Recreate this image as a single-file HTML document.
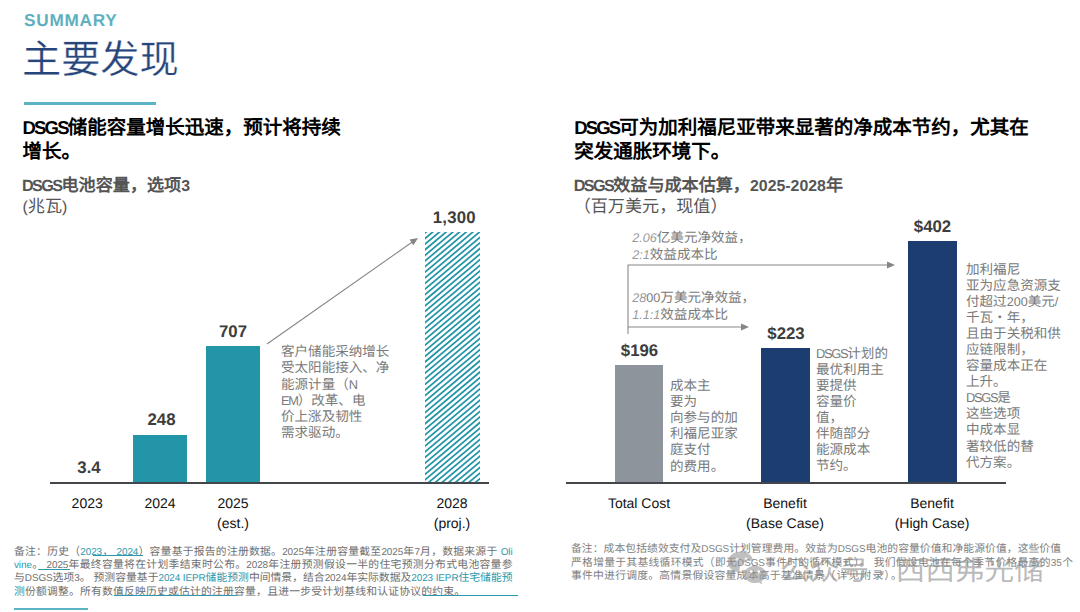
<!DOCTYPE html>
<html lang="zh-CN">
<head>
<meta charset="utf-8">
<title>主要发现</title>
<style>
html,body{margin:0;padding:0;background:#fff;}
body{width:1080px;height:612px;position:relative;overflow:hidden;font-family:"Liberation Sans",sans-serif;color:#000;text-rendering:geometricPrecision;}
.a{position:absolute;white-space:nowrap;}
.c{position:absolute;white-space:nowrap;transform:translateX(-50%);text-align:center;}
.l{font-size:.95em;letter-spacing:-.1em;}
.d{font-size:.93em;}
.summary{left:24px;top:9.5px;font-size:17.2px;font-weight:bold;color:#5fb0bf;letter-spacing:.75px;}
.title{left:22px;top:33.2px;font-size:39.2px;font-weight:300;color:#26457b;line-height:56px;-webkit-text-stroke:.3px #fff;}
.rule{position:absolute;left:24px;top:101.6px;width:132px;height:3px;background:#5cb3c3;}
.h{font-size:19.5px;font-weight:bold;line-height:24.2px;color:#000;}
.sub{font-size:17.1px;font-weight:bold;color:#555;}
.unit{font-size:17.1px;color:#555;}
.val{font-size:16.8px;line-height:18px;font-weight:bold;color:#3d3d3d;letter-spacing:0;}
.xl{font-size:14px;color:#111;line-height:20px;}
.note{font-size:13.55px;line-height:16.05px;color:#7a7a7a;white-space:nowrap;}
.bar{position:absolute;}
.teal{background:#2395a8;}
.navy{background:#1c3d70;}
.gray{background:#8e949c;}
.axis{position:absolute;height:1.9px;background:#43464b;}
.fn{position:absolute;font-size:10.8px;line-height:13.4px;color:#6e6e6e;}
.fn div{text-align:justify;text-align-last:justify;white-space:nowrap;}
.fn b{font-weight:normal;color:#2b98ad;}
.fn .l{font-size:.92em;letter-spacing:-.01em;}
.ul{position:absolute;height:.9px;background:#2b98ad;}
.it{font-size:13.55px;line-height:15.6px;color:#7a7a7a;white-space:nowrap;}
.it i{font-style:italic;font-size:12.6px;color:#999;}
.it span{font-size:12.6px;}
</style>
</head>
<body>
<div class="a summary">SUMMARY</div>
<div class="a title">主要发现</div>
<div class="rule"></div>

<!-- LEFT -->
<div class="a h" style="left:22.6px;top:115.9px;"><span class="l">DSGS</span>储能容量增长迅速，预计将持续<br>增长。</div>
<div class="a sub" style="left:22px;top:170.7px;"><span class="l">DSGS</span>电池容量，选项<span class="d">3</span></div>
<div class="a unit" style="left:22.5px;top:192.2px;"><span class="d">(</span>兆瓦<span class="d">)</span></div>

<div class="bar teal" style="left:133px;top:435px;width:54px;height:48px;"></div>
<div class="bar teal" style="left:206px;top:346px;width:54px;height:137px;"></div>
<svg class="bar" style="left:425px;top:231.6px;background:#fff;" width="55" height="251" viewBox="0 0 55 251"><path stroke="#2395a8" stroke-width="1.75" fill="none" d="M-1 1.74L56 -46.09M-1 7.35L56 -40.48M-1 12.97L56 -34.86M-1 18.58L56 -29.25M-1 24.19L56 -23.64M-1 29.81L56 -18.02M-1 35.42L56 -12.41M-1 41.03L56 -6.80M-1 46.65L56 -1.18M-1 52.26L56 4.43M-1 57.87L56 10.04M-1 63.48L56 15.66M-1 69.10L56 21.27M-1 74.71L56 26.88M-1 80.32L56 32.50M-1 85.94L56 38.11M-1 91.55L56 43.72M-1 97.16L56 49.34M-1 102.78L56 54.95M-1 108.39L56 60.56M-1 114.00L56 66.18M-1 119.62L56 71.79M-1 125.23L56 77.40M-1 130.84L56 83.02M-1 136.46L56 88.63M-1 142.07L56 94.24M-1 147.68L56 99.85M-1 153.30L56 105.47M-1 158.91L56 111.08M-1 164.52L56 116.69M-1 170.14L56 122.31M-1 175.75L56 127.92M-1 181.36L56 133.53M-1 186.98L56 139.15M-1 192.59L56 144.76M-1 198.20L56 150.37M-1 203.82L56 155.99M-1 209.43L56 161.60M-1 215.04L56 167.21M-1 220.66L56 172.83M-1 226.27L56 178.44M-1 231.88L56 184.05M-1 237.50L56 189.67M-1 243.11L56 195.28M-1 248.72L56 200.89M-1 254.34L56 206.51M-1 259.95L56 212.12M-1 265.56L56 217.73M-1 271.18L56 223.35M-1 276.79L56 228.96M-1 282.40L56 234.57M-1 288.01L56 240.19M-1 293.63L56 245.80M-1 299.24L56 251.41"/></svg>
<div class="axis" style="left:50px;top:482px;width:439px;"></div>

<div class="c val" style="left:89px;top:459.2px;">3.4</div>
<div class="c val" style="left:161.5px;top:411.2px;">248</div>
<div class="c val" style="left:233px;top:323.2px;">707</div>
<div class="c val" style="left:454.3px;top:209.2px;letter-spacing:.25px;">1,300</div>

<div class="c xl" style="left:87.2px;top:493px;">2023</div>
<div class="c xl" style="left:160px;top:493px;">2024</div>
<div class="c xl" style="left:233px;top:493px;">2025<br>(est.)</div>
<div class="c xl" style="left:452px;top:493px;">2028<br>(proj.)</div>

<svg class="a" style="left:0;top:0;" width="1080" height="612" viewBox="0 0 1080 612">
<g stroke="#858585" stroke-width="1.05" fill="none">
<line x1="267" y1="344" x2="413" y2="241.5"/>
<polyline points="628,334 628,265 888,265"/>
<line x1="628" y1="327" x2="742" y2="327"/>
</g>
<g fill="#858585">
<polygon points="418,238 409.6,239.6 413.4,245.2"/>
<polygon points="895,265 887,261.6 887,268.4"/>
<polygon points="749,327 741,323.6 741,330.4"/>
</g>
</svg>

<div class="a note" style="left:281px;top:344px;line-height:16.28px;">客户储能采纳增长<br>受太阳能接入、净<br>能源计量（<span class="l">N</span><br><span class="l">EM</span>）改革、电<br>价上涨及韧性<br>需求驱动。</div>

<div class="fn" style="left:14px;top:545.6px;">
<div style="width:498.5px;">备注：历史（<b><span class="l">2023</span>， <span class="l">2024</span></b>）容量基于报告的注册数据。<span class="l">2025</span>年注册容量截至<span class="l">2025</span>年<span class="l">7</span>月，数据来源于 <b><span class="l">Oli</span></b></div>
<div style="width:498.5px;"><b><span class="l">vine</span></b>。 <span class="l">2025</span>年最终容量将在计划季结束时公布。<span class="l">2028</span>年注册预测假设一半的住宅预测分布式电池容量参</div>
<div style="width:498.5px;">与<span class="l">DSGS</span>选项<span class="l">3</span>。 预测容量基于<b><span class="l">2024 IEPR</span>储能预测</b>中间情景，结合<span class="l">2024</span>年实际数据及<b><span class="l">2023 IEPR</span>住宅储能预</b></div>
<div style="width:451px;"><b>测</b>份额调整。所有数值反映历史或估计的注册容量，且进一步受计划基线和认证协议的约束。</div>
</div>
<div class="ul" style="left:93px;top:555.4px;width:50px;"></div>
<div class="ul" style="left:38px;top:568.6px;width:32px;"></div>
<div class="ul" style="left:114px;top:595.4px;width:123px;"></div>
<div class="ul" style="left:423px;top:595.4px;width:95px;"></div>
<div class="rule" style="left:14px;top:608px;width:74px;height:2px;"></div>

<!-- RIGHT -->
<div class="a h" style="left:574.2px;top:115.9px;"><span class="l">DSGS</span>可为加利福尼亚带来显著的净成本节约，尤其在<br>突发通胀环境下。</div>
<div class="a sub" style="left:573.7px;top:170.7px;"><span class="l">DSGS</span>效益与成本估算，<span class="d">2025-2028</span>年</div>
<div class="a unit" style="left:573.7px;top:192.2px;">（百万美元，现值）</div>

<div class="bar gray" style="left:614.8px;top:365px;width:48.4px;height:118px;"></div>
<div class="bar navy" style="left:761px;top:348.3px;width:49px;height:134.7px;"></div>
<div class="bar navy" style="left:908px;top:241.4px;width:49px;height:241.6px;"></div>
<div class="axis" style="left:566px;top:482px;width:440px;"></div>

<div class="c val" style="left:639.5px;top:341.7px;">$196</div>
<div class="c val" style="left:786px;top:324.7px;">$223</div>
<div class="c val" style="left:932.5px;top:217.6px;">$402</div>

<div class="c xl" style="left:639px;top:493px;">Total Cost</div>
<div class="c xl" style="left:785px;top:493px;">Benefit<br>(Base Case)</div>
<div class="c xl" style="left:932px;top:493px;">Benefit<br>(High Case)</div>

<div class="a it" style="left:632.3px;top:230.3px;"><i>2.06</i>亿美元净效益，<br><i>2:1</i>效益成本比</div>
<div class="a it" style="left:632.3px;top:290.3px;"><i>28</i><span>00</span>万美元净效益，<br><i>1.1:1</i>效益成本比</div>

<div class="a note" style="left:670px;top:377.5px;line-height:16.2px;">成本主<br>要为<br>向参与的加<br>利福尼亚家<br>庭支付<br>的费用。</div>
<div class="a note" style="left:816px;top:345.5px;"><span class="l">DSGS</span>计划的<br>最优利用主<br>要提供<br>容量价<br>值，<br>伴随部分<br>能源成本<br>节约。</div>
<div class="a note" style="left:966px;top:262px;">加利福尼<br>亚为应急资源支<br>付超过<span class="d">200</span>美元<span class="d">/</span><br>千瓦・年，<br>且由于关税和供<br>应链限制，<br>容量成本正在<br>上升。<br><span class="l">DSGS</span>是<br>这些选项<br>中成本显<br>著较低的替<br>代方案。</div>

<div class="fn" style="left:571px;top:543px;color:#808080;line-height:13.7px;">
<div style="width:490px;">备注：成本包括绩效支付及<span class="l">DSGS</span>计划管理费用。效益为<span class="l">DSGS</span>电池的容量价值和净能源价值，这些价值</div>
<div style="width:502px;">严格增量于其基线循环模式（即无<span class="l">DSGS</span>事件时的循环模式）。 我们假设电池在每个季节价格最高的<span class="d">35</span>个</div>
<div style="width:253.7px;float:left;">事件中进行调度。高情景假设容量成本高于基准情景</div><div style="width:77px;float:left;">（详见附录）。</div>
</div>

<svg class="a" style="left:725px;top:545px;" width="50" height="45" viewBox="725 545 50 45">
<g fill="rgba(150,150,150,.6)">
<path d="M741.3 551.6c-7.5 0-13.5 4.7-13.5 10.6 0 3.3 1.9 6.2 4.9 8.100l-1.200 3.700 4.300-2.200c1.300.400 2.600.700 4 .800a9.600 9.600 0 0 1-.400-2.600c0-5.300 5.200-9.600 11.700-9.600.800 0 1.600.100 2.300.200-1.200-5.100-6.100-9-12.100-9z"/>
<path d="M766.2 574.400c0-4.700-4.900-8.600-11-8.600s-11 3.900-11 8.600 4.900 8.600 11 8.600c1.300 0 2.500-.200 3.700-.500l3.400 1.900-.900-3.100c2.900-1.600 4.800-4.100 4.800-6.900z"/>
</g>
<g fill="#fff"><circle cx="751.300" cy="571.600" r="1.400"/><circle cx="758.800" cy="571.600" r="1.400"/><circle cx="737" cy="559.300" r="1.500" opacity=".7"/><circle cx="746" cy="558.700" r="1.500" opacity=".7"/></g>
</svg>
<div class="a wm" style="left:780px;top:553.3px;font-size:27px;line-height:36px;color:rgba(140,140,140,.6);transform:scaleX(1.1);transform-origin:0 0;">公众号 · 西西弗光储</div>
</body>
</html>
